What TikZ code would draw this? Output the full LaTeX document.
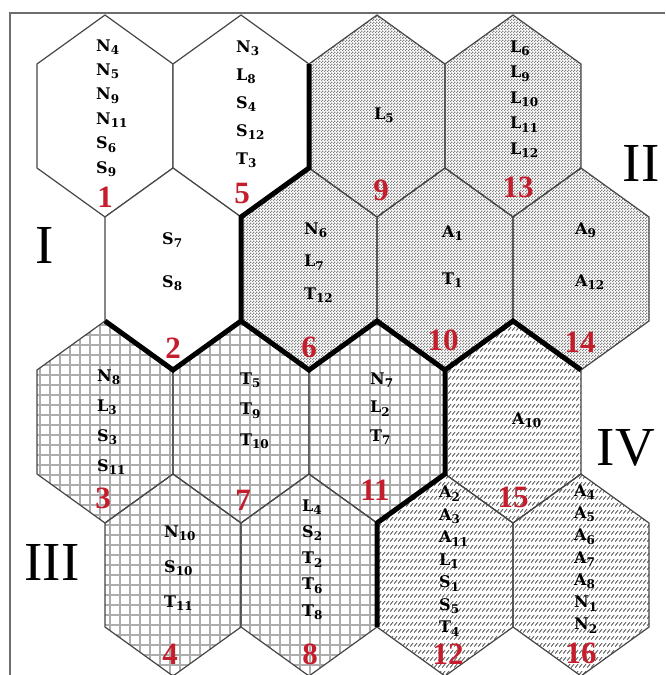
\documentclass[tikz,border=0pt]{standalone}
\usepackage{fontspec}
\setmainfont{DejaVu Serif}
\newfontfamily\romfont{Liberation Serif}
\usetikzlibrary{patterns}
\definecolor{numred}{RGB}{196,30,45}
\definecolor{edgegray}{RGB}{70,70,70}
\definecolor{framegray}{RGB}{110,110,110}

\pgfdeclarepatternformonly{hexdots}{\pgfqpoint{0pt}{0pt}}{\pgfqpoint{3pt}{3pt}}{\pgfqpoint{3pt}{3pt}}{%
  \pgfpathrectangle{\pgfqpoint{0pt}{0pt}}{\pgfqpoint{1.5pt}{1.5pt}}%
  \pgfpathrectangle{\pgfqpoint{1.5pt}{1.5pt}}{\pgfqpoint{1.5pt}{1.5pt}}%
  \pgfusepath{fill}}
\pgfdeclarepatternformonly{hexgrid}{\pgfqpoint{-1pt}{-1pt}}{\pgfqpoint{11pt}{11pt}}{\pgfqpoint{10pt}{10pt}}{%
  \pgfsetlinewidth{1.6pt}%
  \pgfpathmoveto{\pgfqpoint{0pt}{0pt}}\pgfpathlineto{\pgfqpoint{10.1pt}{0pt}}%
  \pgfpathmoveto{\pgfqpoint{0pt}{0pt}}\pgfpathlineto{\pgfqpoint{0pt}{10.1pt}}%
  \pgfusepath{stroke}}
\pgfdeclarepatternformonly{hexslash}{\pgfqpoint{0pt}{0pt}}{\pgfqpoint{3.5pt}{7pt}}{\pgfqpoint{3.5pt}{7pt}}{%
  \pgfsetlinewidth{0.9pt}%
  \pgfpathmoveto{\pgfqpoint{0pt}{1.5pt}}\pgfpathlineto{\pgfqpoint{3.5pt}{5.5pt}}%
  \pgfusepath{stroke}}

\newcommand\sbn[1]{\raisebox{-3.5pt}{\fontsize{12}{12}\selectfont#1}}
\newcommand\hexcell[3]{\path[#1] (#2,#3) -- ++(68,49) -- ++(0,104) -- ++(-68,49) -- ++(-68,-49) -- ++(0,-104) -- cycle;}

\tikzset{
  hexline/.style={draw=edgegray, line width=1.2pt},
  rone/.style={hexline, fill=white},
  rtwo/.style={hexline, pattern=hexdots, pattern color=black!50},
  rthree/.style={hexline, pattern=hexgrid, pattern color=black!32},
  rfour/.style={hexline, pattern=hexslash, pattern color=black!70},
  regionedge/.style={draw=black, line width=5pt},
  framel/.style={draw=framegray, line width=1.3pt},
  lbl/.style={inner sep=0pt, anchor=west, align=left, font=\fontsize{16}{#1}\selectfont\bfseries},
  num/.style={inner sep=0pt, text=numred, font=\romfont\fontsize{31}{31}\selectfont\bfseries},
  reg/.style={inner sep=0pt, font=\romfont\fontsize{55}{55}\selectfont}
}

\begin{document}
\begin{tikzpicture}[x=1pt,y=-1pt]
\useasboundingbox (0,0) rectangle (666,675);
\fill[white] (0,0) rectangle (666,675);
% frame
\draw[framel] (10,675) -- (10,13) -- (665,13);
% hexagons
\hexcell{rone}{105}{15}
\hexcell{rone}{241}{15}
\hexcell{rtwo}{377}{15}
\hexcell{rtwo}{513}{15}
\hexcell{rone}{173}{168}
\hexcell{rtwo}{309}{168}
\hexcell{rtwo}{445}{168}
\hexcell{rtwo}{581}{168}
\hexcell{rthree}{105}{321}
\hexcell{rthree}{241}{321}
\hexcell{rthree}{377}{321}
\hexcell{rfour}{513}{321}
\hexcell{rthree}{173}{474}
\hexcell{rthree}{309}{474}
\hexcell{rfour}{445}{474}
\hexcell{rfour}{581}{474}
% region boundaries
\draw[regionedge] (105,321)--(173,370)--(241,321)--(241,217)--(309,168)--(309,64)
  (241,321)--(309,370)--(377,321)--(445,370)--(513,321)--(581,370)
  (445,370)--(445,474)--(377,523)--(377,627);
% contents
\node[lbl=24.4] (t1) at (96,108) {N\sbn{4}\\N\sbn{5}\\N\sbn{9}\\N\sbn{11}\\S\sbn{6}\\S\sbn{9}};
\node[lbl=28] (t5) at (236,104) {N\sbn{3}\\L\sbn{8}\\S\sbn{4}\\S\sbn{12}\\T\sbn{3}};
\node[lbl=20] (t9) at (374,115) {L\sbn{5}};
\node[lbl=25.5] (t13) at (510,99) {L\sbn{6}\\L\sbn{9}\\L\sbn{10}\\L\sbn{11}\\L\sbn{12}};
\node[lbl=43] (t2) at (162,261.5) {S\sbn{7}\\S\sbn{8}};
\node[lbl=32.5] (t6) at (304,262.5) {N\sbn{6}\\L\sbn{7}\\T\sbn{12}};
\node[lbl=47] (t10) at (442,256.5) {A\sbn{1}\\T\sbn{1}};
\node[lbl=52] (t14) at (575,256) {A\sbn{9}\\A\sbn{12}};
\node[lbl=30] (t3) at (97,422) {N\sbn{8}\\L\sbn{3}\\S\sbn{3}\\S\sbn{11}};
\node[lbl=30.5] (t7) at (240,410.5) {T\sbn{5}\\T\sbn{9}\\T\sbn{10}};
\node[lbl=28.5] (t11) at (370,408.5) {N\sbn{7}\\L\sbn{2}\\T\sbn{7}};
\node[lbl=20] (t15) at (512,420) {A\sbn{10}};
\node[lbl=35] (t4) at (164,568) {N\sbn{10}\\S\sbn{10}\\T\sbn{11}};
\node[lbl=26.25] (t8) at (302,559.5) {L\sbn{4}\\S\sbn{2}\\T\sbn{2}\\T\sbn{6}\\T\sbn{8}};
\node[lbl=22.5] (t12) at (439,561) {A\sbn{2}\\A\sbn{3}\\A\sbn{11}\\L\sbn{1}\\S\sbn{1}\\S\sbn{5}\\T\sbn{4}};
\node[lbl=22.3] (t16) at (574,559) {A\sbn{4}\\A\sbn{5}\\A\sbn{6}\\A\sbn{7}\\A\sbn{8}\\N\sbn{1}\\N\sbn{2}};
% hex numbers
\node[num] (n1) at (105,197) {1};
\node[num] (n5) at (242,193) {5};
\node[num] (n9) at (381,190) {9};
\node[num] (n13) at (518,187) {13};
\node[num] (n2) at (173,348) {2};
\node[num] (n6) at (309,347) {6};
\node[num] (n10) at (443,340) {10};
\node[num] (n14) at (580,342) {14};
\node[num] (n3) at (103,498) {3};
\node[num] (n7) at (243,500) {7};
\node[num] (n11) at (375,490) {11};
\node[num] (n15) at (513,497) {15};
\node[num] (n4) at (170,654) {4};
\node[num] (n8) at (310,654) {8};
\node[num] (n12) at (448,654) {12};
\node[num] (n16) at (581,653) {16};
% region labels
\node[reg] (rI) at (45,245) {I};
\node[reg] (rII) at (641,163) {II};
\node[reg] (rIII) at (52,562) {III};
\node[reg] (rIV) at (626,448) {IV};
\end{tikzpicture}
\end{document}
